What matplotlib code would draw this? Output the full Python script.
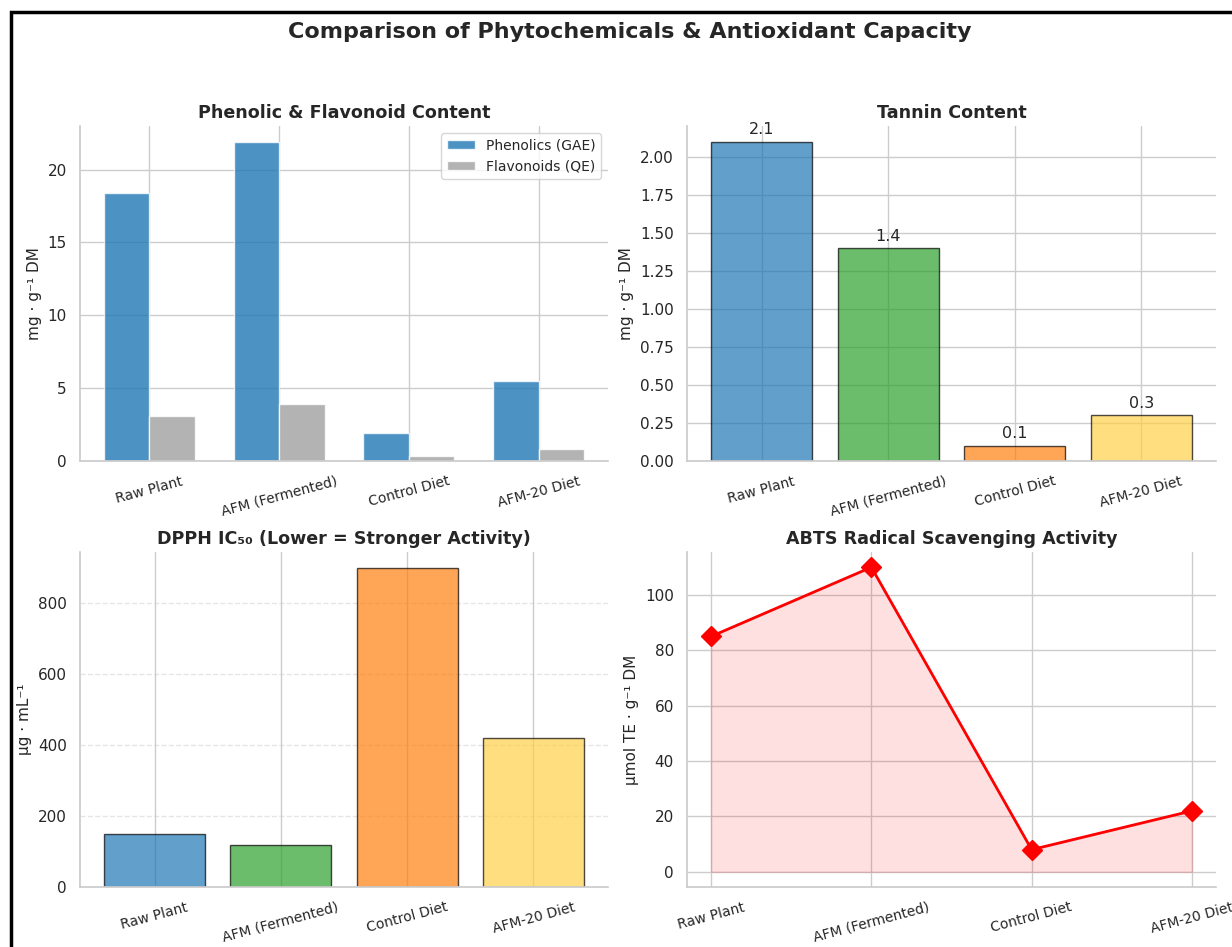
# phytochemical and antioxidant comparison, 2x2 panel figure

import matplotlib.pyplot as plt
import seaborn as sns
import numpy as np
from matplotlib.patches import Rectangle

sns.set_theme(style='whitegrid')
plt.rcParams['font.family'] = ['DejaVu Sans']

samples = ['Raw Plant', 'AFM (Fermented)', 'Control Diet', 'AFM-20 Diet']
phenolics = [18.4, 21.9, 1.9, 5.5]
flavonoids = [3.1, 3.9, 0.35, 0.8]
tannins = [2.1, 1.4, 0.1, 0.3]
dpph_ic50 = [150, 118, 900, 420]
abts = [85, 110, 8, 22]

bar_colors = ['#1f77b4', '#2ca02c', '#ff7f0e', '#FFD04A']

W, H = 1232, 947
fig = plt.figure(figsize=(W / 100, H / 100), dpi=100)

def px_axes(x0, y0, x1, y1):
    # axes placed by pixel box (left, top, right, bottom)
    return fig.add_axes([x0 / W, 1 - y1 / H, (x1 - x0) / W, (y1 - y0) / H])

ax1 = px_axes(80, 126, 608, 461)
ax2 = px_axes(687, 126, 1216, 461)
ax3 = px_axes(80, 552, 608, 887)
ax4 = px_axes(687, 552, 1216, 887)

fig.suptitle('Comparison of Phytochemicals & Antioxidant Capacity',
             fontsize=16, fontweight='bold', y=1 - 32 / H, va='center', x=630 / W)

# frame around the figure
fig.patches.append(Rectangle((11 / W, -0.05), 1.1, 1 - 12 / H + 0.05,
                             transform=fig.transFigure, fill=False,
                             edgecolor='black', linewidth=2.5, zorder=10))

x = np.arange(len(samples))
w = 0.35
title_kw = dict(fontsize=12.6, fontweight='bold')

# phenolics & flavonoids
ax1.bar(x - w / 2, phenolics, w, color='#1f77b4', alpha=0.8, label='Phenolics (GAE)')
ax1.bar(x + w / 2, flavonoids, w, color='#a0a0a0', alpha=0.8, label='Flavonoids (QE)')
ax1.set_title('Phenolic & Flavonoid Content', **title_kw)
ax1.set_ylabel('mg · g⁻¹ DM', fontsize=11)
ax1.legend(loc='upper right', fontsize=10)

# tannins
bars = ax2.bar(x, tannins, 0.8, color=bar_colors, alpha=0.7, edgecolor='black')
for b, v in zip(bars, tannins):
    ax2.text(b.get_x() + b.get_width() / 2, v + 0.03, f'{v}',
             ha='center', va='bottom', fontsize=11.5)
ax2.set_title('Tannin Content', **title_kw)
ax2.set_ylabel('mg · g⁻¹ DM', fontsize=11)

# DPPH
ax3.bar(x, dpph_ic50, 0.8, color=bar_colors, alpha=0.7, edgecolor='black')
ax3.set_title('DPPH IC₅₀ (Lower = Stronger Activity)', **title_kw)
ax3.set_ylabel('μg · mL⁻¹', fontsize=11)
ax3.grid(axis='y', linestyle='--', alpha=0.5)

# ABTS
ax4.plot(x, abts, color='red', marker='D', markersize=10, linewidth=2)
ax4.fill_between(x, abts, color='red', alpha=0.12)
ax4.set_title('ABTS Radical Scavenging Activity', **title_kw)
ax4.set_ylabel('μmol TE · g⁻¹ DM', fontsize=11)

for ax in (ax1, ax2, ax3, ax4):
    ax.set_xticks(x)
    ax.set_xticklabels(samples, rotation=15, fontsize=10)
    ax.tick_params(axis='y', labelsize=11)
    sns.despine(ax=ax)

fig.savefig('out.png', dpi=100)
plt.close(fig)
